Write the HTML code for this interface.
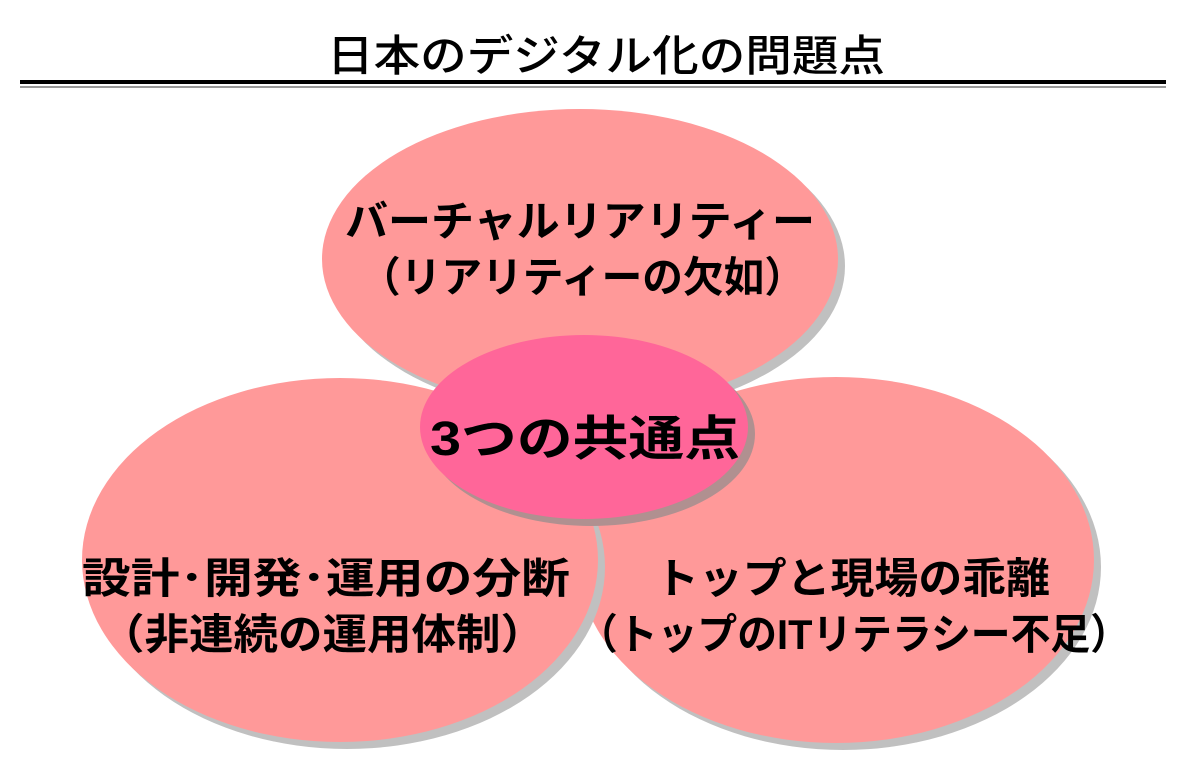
<!DOCTYPE html>
<html><head><meta charset="utf-8"><style>
body{margin:0;background:#fff;}
svg{display:block;}
text{font-family:"Liberation Sans","Noto Sans CJK JP",sans-serif;font-weight:bold;fill:#000;}
</style></head><body>
<svg width="1185" height="772" viewBox="0 0 1185 772" xmlns="http://www.w3.org/2000/svg">
<text x="327" y="71" font-size="43" textLength="558" lengthAdjust="spacingAndGlyphs" style="font-weight:500">日本のデジタル化の問題点</text>
<rect x="20" y="80" width="1146" height="4" fill="#000"/>
<rect x="20" y="86" width="1146" height="2" fill="#999"/>
<ellipse cx="587" cy="266" rx="258" ry="150" fill="#c0c0c0"/>
<ellipse cx="580" cy="259" rx="258" ry="150" fill="#ff9999"/>
<ellipse cx="843" cy="567" rx="258" ry="183" fill="#c0c0c0"/>
<ellipse cx="836" cy="560" rx="258" ry="183" fill="#ff9999"/>
<ellipse cx="347" cy="567" rx="258" ry="182" fill="#c0c0c0"/>
<ellipse cx="340" cy="560" rx="258" ry="182" fill="#ff9999"/>
<ellipse cx="591" cy="434" rx="164" ry="92" fill="#b09090"/>
<ellipse cx="584" cy="427" rx="164" ry="92" fill="#ff6699"/>
<text x="345" y="236" font-size="42" textLength="470" lengthAdjust="spacingAndGlyphs">バーチャルリアリティー</text>
<text x="360" y="292" font-size="42" textLength="445" lengthAdjust="spacingAndGlyphs">（リアリティーの欠如）</text>
<text x="430" y="455" font-size="48" textLength="310" lengthAdjust="spacingAndGlyphs">3つの共通点</text>
<text x="82" y="593" font-size="42" textLength="488" lengthAdjust="spacingAndGlyphs">設計･開発･運用の分断</text>
<text x="100" y="649" font-size="42" textLength="445" lengthAdjust="spacingAndGlyphs">（非連続の運用体制）</text>
<text x="655" y="593" font-size="42" textLength="395" lengthAdjust="spacingAndGlyphs">トップと現場の乖離</text>
<text x="578" y="649" font-size="42" textLength="552" lengthAdjust="spacingAndGlyphs">（トップのITリテラシー不足）</text>
</svg>
</body></html>
